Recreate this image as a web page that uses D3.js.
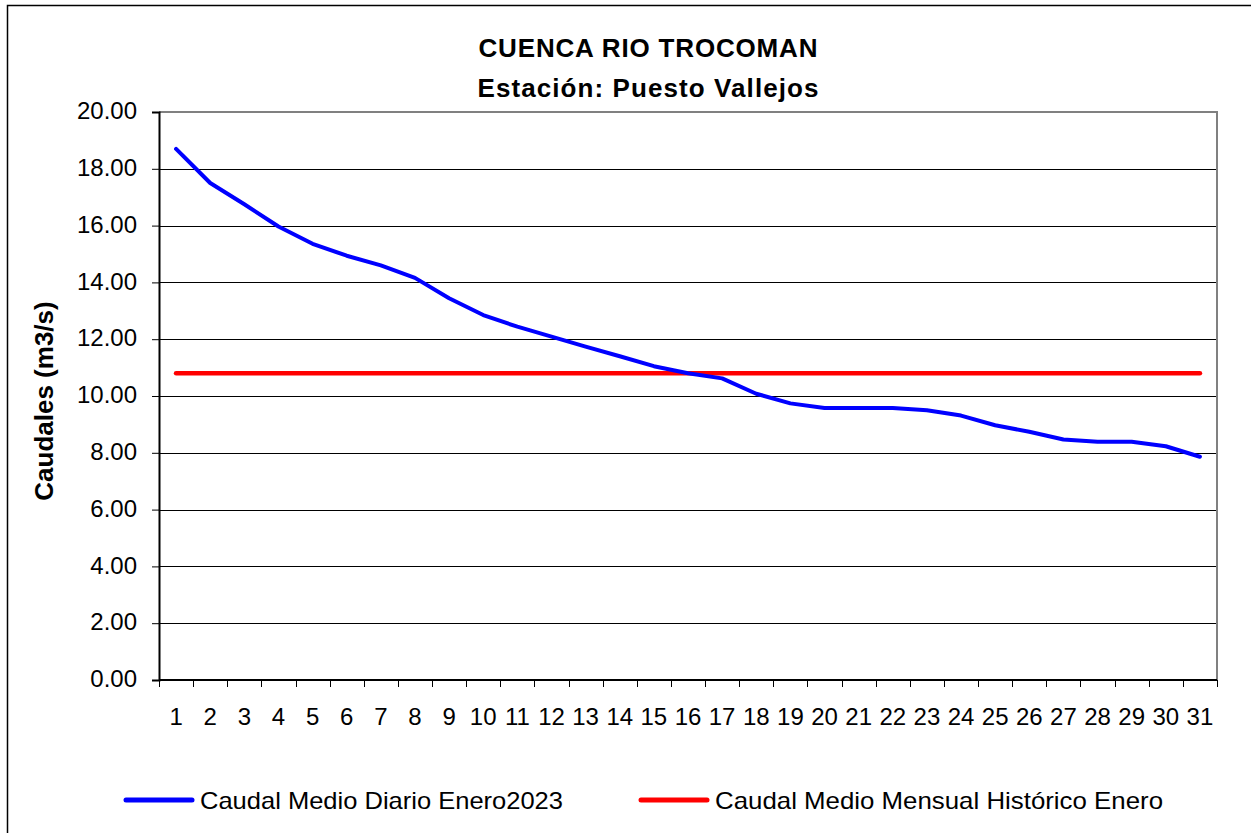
<!DOCTYPE html>
<html>
<head>
<meta charset="utf-8">
<script src="https://cdn.jsdelivr.net/npm/d3@7"></script>
<style>
  body { margin: 0; background: #ffffff; }
  text { font-family: "Liberation Sans", Arial, sans-serif; fill: #000000; }
</style>
</head>
<body>
<div class="chart"></div>
<script>
// Chart data
var days = ["1", "2", "3", "4", "5", "6", "7", "8", "9", "10", "11", "12", "13", "14", "15", "16",
  "17", "18", "19", "20", "21", "22", "23", "24", "25", "26", "27", "28", "29", "30", "31"];

var dailyFlow = [18.70, 17.50, 16.75, 15.97, 15.36, 14.94, 14.60, 14.16, 13.44, 12.85, 12.44, 12.09,
  11.74, 11.40, 11.05, 10.80, 10.62, 10.08, 9.74, 9.58, 9.58, 9.58, 9.50, 9.31, 8.97, 8.74, 8.47,
  8.39, 8.39, 8.23, 7.86];

var historicMean = days.map(function () { return 10.80; });

var yTicks = [0, 2, 4, 6, 8, 10, 12, 14, 16, 18, 20];

var titleLines = ["CUENCA RIO TROCOMAN", "Estación: Puesto Vallejos"];
var yLabel = "Caudales (m3/s)";
var legendNames = ["Caudal Medio Diario Enero2023", "Caudal Medio Mensual Histórico Enero"];

// SVG sizes
var svgWidth = 1251;
var svgHeight = 833;
var margin = { top: 112, right: 34, bottom: 153, left: 159 };
var width = svgWidth - margin.left - margin.right;
var height = svgHeight - margin.top - margin.bottom;

var svg = d3
  .select(".chart")
  .append("svg")
  .attr("width", svgWidth)
  .attr("height", svgHeight);

// Outer frame of the chart (runs off to the right and bottom)
svg.append("rect")
  .attr("x", 7.5)
  .attr("y", 5.5)
  .attr("width", 1300)
  .attr("height", 900)
  .attr("fill", "none")
  .attr("stroke", "#000")
  .attr("stroke-width", 1.5);

var chart = svg.append("g")
  .attr("transform", "translate(" + margin.left + "," + margin.top + ")");

// Scales
var xScale = d3.scaleBand().domain(days).range([0, width]);
var yScale = d3.scaleLinear().domain([0, 20]).range([height, 0]);

function xMid(d, i) {
  return xScale(days[i]) + xScale.bandwidth() / 2;
}

// Horizontal gridlines
chart.append("g")
  .selectAll("line")
  .data(yTicks.filter(function (t) { return t > 0 && t < 20; }))
  .enter()
  .append("line")
  .attr("x1", 0)
  .attr("x2", width)
  .attr("y1", function (d) { return Math.round(yScale(d)) + 0.5; })
  .attr("y2", function (d) { return Math.round(yScale(d)) + 0.5; })
  .attr("stroke", "#000")
  .attr("stroke-width", 1);

// Gray top and right border of the plot area
chart.append("path")
  .attr("d", "M0,0H" + width + "V" + height)
  .attr("fill", "none")
  .attr("stroke", "#808080")
  .attr("stroke-width", 2);

// Y axis
var yAxis = d3.axisLeft(yScale)
  .tickValues(yTicks)
  .tickSize(7)
  .tickPadding(15)
  .tickFormat(d3.format(".2f"));

var yAxisG = chart.append("g").attr("class", "y-axis").call(yAxis);
yAxisG.select(".domain").attr("stroke", "#000").attr("stroke-width", 2);
yAxisG.selectAll(".tick line").attr("stroke", "#000");
yAxisG.selectAll("text")
  .style("font-size", "24px")
  .attr("dy", "0.28em");

// X axis, ticks on the band edges
var xAxisG = chart.append("g")
  .attr("class", "x-axis")
  .attr("transform", "translate(0," + height + ")");

xAxisG.append("line")
  .attr("x1", 0)
  .attr("x2", width)
  .attr("stroke", "#000")
  .attr("stroke-width", 2);

xAxisG.selectAll(".edge")
  .data(days.concat(["end"]))
  .enter()
  .append("line")
  .attr("class", "edge")
  .attr("x1", function (d, i) { return Math.round(i * xScale.step()) + 0.5; })
  .attr("x2", function (d, i) { return Math.round(i * xScale.step()) + 0.5; })
  .attr("y1", 0)
  .attr("y2", 7)
  .attr("stroke", "#000");

xAxisG.selectAll(".lbl")
  .data(days)
  .enter()
  .append("text")
  .attr("class", "lbl")
  .attr("x", xMid)
  .attr("y", 45)
  .attr("text-anchor", "middle")
  .style("font-size", "24px")
  .text(function (d) { return d; });

// Lines
var line = d3.line()
  .x(xMid)
  .y(function (d) { return yScale(d); });

chart.append("path")
  .datum(historicMean)
  .attr("d", line)
  .attr("fill", "none")
  .attr("stroke", "#ff0000")
  .attr("stroke-width", 4.5)
  .attr("stroke-linecap", "round");

chart.append("path")
  .datum(dailyFlow)
  .attr("d", line)
  .attr("fill", "none")
  .attr("stroke", "#0000ff")
  .attr("stroke-width", 4)
  .attr("stroke-linejoin", "round")
  .attr("stroke-linecap", "round");

// Title
svg.selectAll(".title")
  .data(titleLines)
  .enter()
  .append("text")
  .attr("class", "title")
  .attr("x", 648)
  .attr("y", function (d, i) { return 57 + i * 40; })
  .attr("text-anchor", "middle")
  .attr("textLength", function (d, i) { return i === 0 ? 339 : 341; })
  .attr("lengthAdjust", "spacing")
  .style("font-size", "26px")
  .style("font-weight", "bold")
  .text(function (d) { return d; });

// Y axis title
svg.append("text")
  .attr("transform", "translate(53,401) rotate(-90)")
  .attr("text-anchor", "middle")
  .style("font-size", "26px")
  .style("font-weight", "bold")
  .text(yLabel);

// Legend
var legendItems = [
  { name: legendNames[0], color: "#0000ff", x: 124, len: 363 },
  { name: legendNames[1], color: "#ff0000", x: 639, len: 448 }
];

var legend = svg.selectAll(".legend")
  .data(legendItems)
  .enter()
  .append("g")
  .attr("class", "legend")
  .attr("transform", function (d) { return "translate(" + d.x + ",800)"; });

legend.append("line")
  .attr("x1", 2)
  .attr("x2", 68)
  .attr("stroke", function (d) { return d.color; })
  .attr("stroke-width", 5)
  .attr("stroke-linecap", "round");

legend.append("text")
  .attr("x", 76)
  .attr("y", 9)
  .attr("textLength", function (d) { return d.len; })
  .attr("lengthAdjust", "spacingAndGlyphs")
  .style("font-size", "24px")
  .text(function (d) { return d.name; });
</script>
</body>
</html>
